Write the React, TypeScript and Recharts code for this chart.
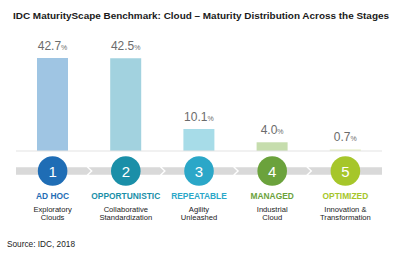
import { Bar, BarChart, Cell, Customized, LabelList, XAxis, YAxis } from 'recharts';

const stages = ['1', '2', '3', '4', '5'];
const shares = [42.7, 42.5, 10.1, 4.0, 0.7];
const stageNames = ['AD HOC', 'OPPORTUNISTIC', 'REPEATABLE', 'MANAGED', 'OPTIMIZED'];
const descLine1 = ['Exploratory', 'Collaborative', 'Agility', 'Industrial', 'Innovation &'];
const descLine2 = ['Clouds', 'Standardization', 'Unleashed', 'Cloud', 'Transformation'];

const barColors = ['#9fc5e3', '#a2d2df', '#a7dce8', '#c6ddad', '#e3ecc0'];
const stageColors = ['#1f6db5', '#1a8fa8', '#2ba7c8', '#6ba23c', '#a6c62a'];

const WIDTH = 400;
const HEIGHT = 255;
const MARGIN = { top: 42, right: 18, left: 16, bottom: 0 };
const BAND_HALF = (WIDTH - MARGIN.left - MARGIN.right) / stages.length / 2;
const FONT = '"Liberation Sans", Arial, sans-serif';

const data = stages.map((stage, i) => ({ stage, value: shares[i] }));

/** 막대 위 값 라벨: 숫자 + 작은 % */
function ValueLabel(props: any) {
  const { x, y, width, value } = props;
  if (typeof value !== 'number') return null;
  return (
    <text
      x={x + width / 2}
      y={y - 8}
      textAnchor="middle"
      fontFamily={FONT}
      fill="#6b6b6b"
      fontSize={12}
    >
      {value.toFixed(1)}
      <tspan fontSize={7}>%</tspan>
    </text>
  );
}

/** X 축 tick: 회색 화살표 밴드 조각 + 원 + 단계명 + 설명 */
function StageTick(props: any) {
  const { x, y, index } = props;
  const i = index as number;
  const cy = y + 20;
  const top = cy - 3.7;
  const bot = cy + 3.7;
  const last = stages.length - 1;
  const left = i === 0 ? MARGIN.left : x - BAND_HALF - 0.5;
  const right = i === last ? WIDTH - MARGIN.right : x + BAND_HALF + 1.5;
  const pts =
    i === 0
      ? [[left, top], [right - 4, top], [right, cy], [right - 4, bot], [left, bot]]
      : i === last
        ? [[left, top], [right, top], [right, bot], [left, bot], [left + 4, cy]]
        : [[left, top], [right - 4, top], [right, cy], [right - 4, bot], [left, bot], [left + 4, cy]];
  return (
    <g fontFamily={FONT}>
      <polygon points={pts.map((p) => p.join(',')).join(' ')} fill="#d9d9d9" />
      <circle cx={x} cy={cy} r={14.8} fill={stageColors[i]} />
      <text x={x} y={cy + 5.5} textAnchor="middle" fill="#ffffff" fontSize={15}>
        {stages[i]}
      </text>
      <text x={x} y={cy + 27.5} textAnchor="middle" fill={stageColors[i]} fontSize={8.4} fontWeight="bold">
        {stageNames[i]}
      </text>
      <text x={x} y={cy + 41} textAnchor="middle" fill="#222222" fontSize={7.6}>
        {descLine1[i]}
      </text>
      <text x={x} y={cy + 49} textAnchor="middle" fill="#222222" fontSize={7.6}>
        {descLine2[i]}
      </text>
    </g>
  );
}

function Headings() {
  return (
    <g>
      <text
        x={201}
        y={19}
        textAnchor="middle"
        fontFamily={FONT}
        fontWeight="bold"
        fontSize={9.4}
        fill="#1a1a1a"
        textLength={376}
        lengthAdjust="spacingAndGlyphs"
      >
        IDC MaturityScape Benchmark: Cloud – Maturity Distribution Across the Stages
      </text>
      <text
        x={7}
        y={247}
        fontFamily={FONT}
        fontSize={9.2}
        fill="#222222"
        textLength={68}
        lengthAdjust="spacingAndGlyphs"
      >
        Source: IDC, 2018
      </text>
    </g>
  );
}

export default function App() {
  return (
    <div style={{ width: WIDTH, height: HEIGHT, background: '#ffffff' }}>
      <style>{'body{margin:0}'}</style>
      <BarChart width={WIDTH} height={HEIGHT} data={data} margin={MARGIN}>
        <XAxis
          dataKey="stage"
          height={104}
          tickLine={false}
          tickSize={0}
          tickMargin={0}
          axisLine={{ stroke: '#e3e3e3' }}
          interval={0}
          tick={<StageTick />}
        />
        <YAxis hide domain={[0, 50]} />
        <Bar dataKey="value" barSize={31} isAnimationActive={false}>
          {data.map((d, i) => (
            <Cell key={d.stage} fill={barColors[i]} />
          ))}
          <LabelList dataKey="value" content={<ValueLabel />} />
        </Bar>
        <Customized component={Headings} />
      </BarChart>
    </div>
  );
}
